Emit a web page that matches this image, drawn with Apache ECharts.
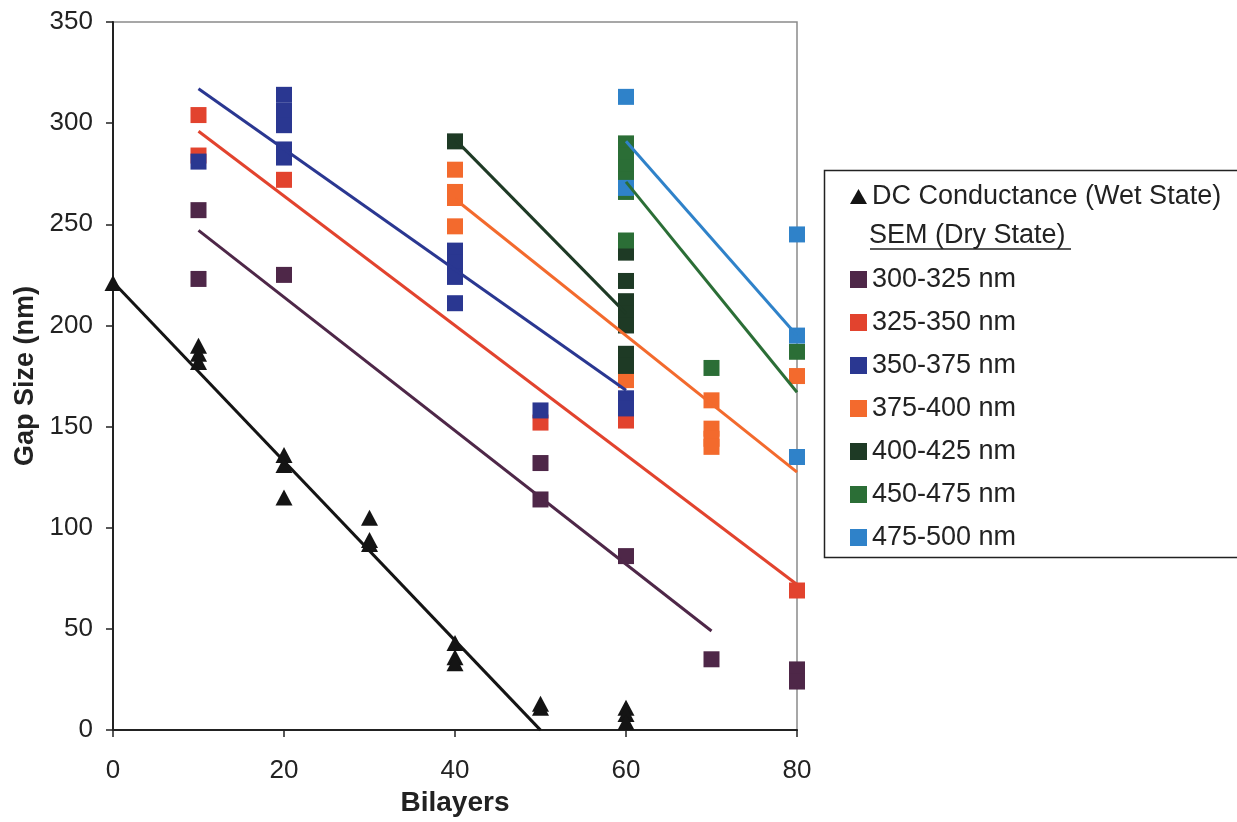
<!DOCTYPE html>
<html>
<head>
<meta charset="utf-8">
<script src="https://cdn.jsdelivr.net/npm/echarts@6/dist/echarts.min.js"></script>
<style>
html,body{margin:0;padding:0;background:#fff;}
#chart{width:1237px;height:822px;}
</style>
</head>
<body>
<div id="chart"></div>
<script>
// ---- data ----
const xTicks = [0, 20, 40, 60, 80];
const yTicks = [0, 50, 100, 150, 200, 250, 300, 350];

const seriesNames = ['DC Conductance (Wet State)', '300-325 nm', '325-350 nm', '350-375 nm', '375-400 nm', '400-425 nm', '450-475 nm', '475-500 nm'];

const dcWet = [[0,221],[10,190],[10,186],[10,182],[20,136],[20,131],[20,115],[30,105],[30,94],[30,92],[40,43],[40,36],[40,33],[50,13],[50,11],[60,11],[60,8],[60,4]];
const sem300 = [[10,257],[10,223],[20,225],[50,132],[50,114],[60,86],[70,35],[80,30],[80,24]];
const sem325 = [[10,304],[10,284],[20,272],[50,152],[60,153],[80,69]];
const sem350 = [[10,281],[20,314],[20,306],[20,299],[20,287],[20,283],[40,237],[40,231],[40,224],[40,211],[50,158],[60,164],[60,159]];
const sem375 = [[40,277],[40,266],[40,263],[40,249],[60,173],[70,163],[70,149],[70,144],[70,140],[80,175]];
const sem400 = [[40,291],[60,236],[60,222],[60,212],[60,206],[60,200],[60,186],[60,180]];
const sem450 = [[60,290],[60,284],[60,278],[60,272],[60,266],[60,242],[70,179],[80,187]];
const sem475 = [[60,313],[60,268],[80,245],[80,195],[80,135]];

// trend line end points
const trendDC  = [[0,221.5],[50,0]];
const trend300 = [[10,247],[70,49]];
const trend325 = [[10,296],[80,72]];
const trend350 = [[10,317],[60,168]];
const trend375 = [[40,262.5],[80,127.5]];
const trend400 = [[40,292],[60,206]];
const trend450 = [[60,271],[80,167]];
const trend475 = [[60,291],[80,195]];

const colors = ['#141414', '#4e2748', '#e2432e', '#2a3791', '#f36a2d', '#1e3a25', '#2b6e36', '#2f82c9'];

const pointSets = [dcWet, sem300, sem325, sem350, sem375, sem400, sem450, sem475];
const trendSets = [trendDC, trend300, trend325, trend350, trend375, trend400, trend450, trend475];

const chart = echarts.init(document.getElementById('chart'));
const FONT = 'Liberation Sans, Arial, sans-serif';

const series = [];
pointSets.forEach((pts, i) => {
  series.push({
    name: seriesNames[i],
    type: 'scatter',
    data: pts,
    symbol: i === 0 ? 'triangle' : 'rect',
    symbolSize: i === 0 ? [17, 16] : 16,
    itemStyle: { color: colors[i], opacity: 1 },
    z: 2,
    silent: true
  });
});
trendSets.forEach((pts, i) => {
  series.push({
    name: 'trend' + i,
    type: 'line',
    data: pts,
    showSymbol: false,
    symbol: 'none',
    lineStyle: { color: colors[i], width: 3 },
    z: 3,
    clip: true,
    silent: true
  });
});

chart.setOption({
  animation: false,
  backgroundColor: '#fff',
  grid: { left: 113, top: 22, width: 684, height: 716, show: true, borderColor: '#8a8a8a', borderWidth: 1.5, backgroundColor: 'transparent' },
  xAxis: {
    type: 'value', min: 0, max: 80, interval: 20,
    name: 'Bilayers', nameLocation: 'middle', nameGap: 56,
    nameTextStyle: { fontFamily: FONT, fontSize: 28, fontWeight: 'bold', color: '#222' },
    axisLine: { show: true, onZero: false, lineStyle: { color: '#222', width: 2 } },
    axisTick: { show: true, inside: false, length: 7, lineStyle: { color: '#222', width: 1.5 } },
    axisLabel: { margin: 28, fontFamily: FONT, fontSize: 26, color: '#222' },
    splitLine: { show: false }
  },
  yAxis: {
    type: 'value', min: 0, max: 350, interval: 50,
    name: 'Gap Size (nm)', nameLocation: 'middle', nameGap: 68, nameRotate: 90,
    nameTextStyle: { fontFamily: FONT, fontSize: 27, fontWeight: 'bold', color: '#222' },
    axisLine: { show: true, onZero: false, lineStyle: { color: '#222', width: 2 } },
    axisTick: { show: true, inside: false, length: 7, lineStyle: { color: '#222', width: 1.5 } },
    axisLabel: { margin: 20, fontFamily: FONT, fontSize: 26, color: '#222' },
    splitLine: { show: false }
  },
  legend: [
    {
      data: [{ name: seriesNames[0], icon: 'triangle' }],
      orient: 'vertical', left: 845, top: 178,
      itemWidth: 17, itemHeight: 15,
      textStyle: { fontFamily: FONT, fontSize: 27, color: '#222', lineHeight: 27 },
      selectedMode: false
    },
    {
      data: seriesNames.slice(1).map(n => ({ name: n, icon: 'rect' })),
      orient: 'vertical', left: 845, top: 261,
      itemWidth: 17, itemHeight: 17, itemGap: 16,
      textStyle: { fontFamily: FONT, fontSize: 27, color: '#222', lineHeight: 27 },
      selectedMode: false
    }
  ],
  graphic: [
    { type: 'rect', left: 822, top: 168, shape: { width: 440, height: 387 }, style: { fill: 'none', stroke: '#222', lineWidth: 1.5 }, z: -1 },
    { type: 'text', left: 869, top: 222, style: { text: 'SEM (Dry State)', font: '27px ' + FONT, fill: '#222' } },
    { type: 'line', shape: { x1: 870, y1: 249, x2: 1071, y2: 249 }, style: { stroke: '#222', lineWidth: 1.5 } }
  ],
  series: series
});
</script>
</body>
</html>
